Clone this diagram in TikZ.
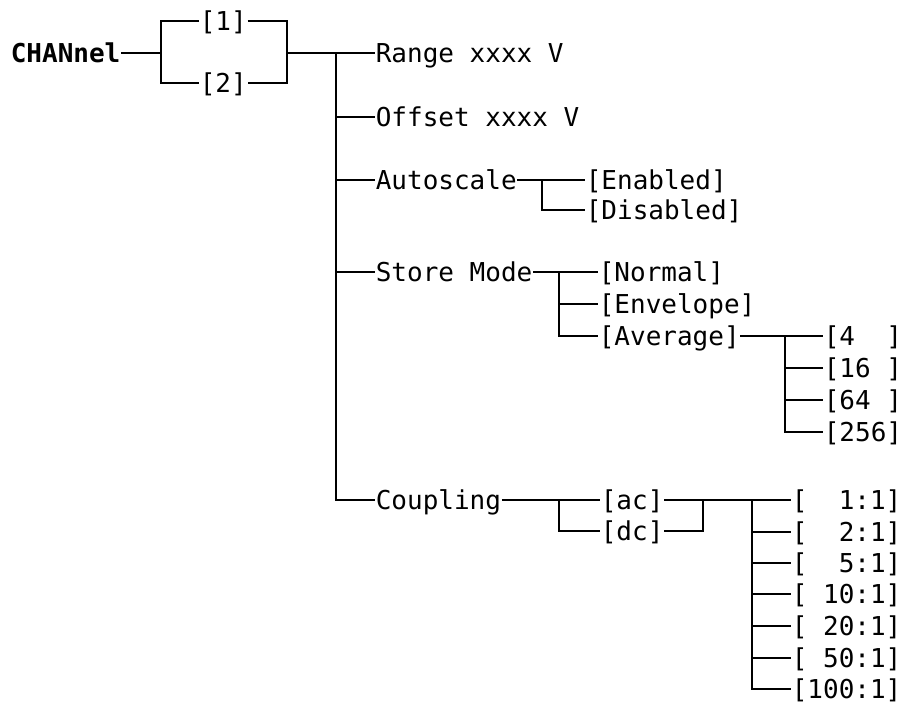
\documentclass[tikz,border=0pt]{standalone}
\usepackage{fontspec}
\setmonofont{DejaVu Sans Mono}
\usetikzlibrary{positioning}

\begin{document}
\begin{tikzpicture}[x=0.5pt,y=-0.5pt,
  item/.style={anchor=west, inner xsep=0pt, inner ysep=0pt, text height=9.4pt, text depth=0pt,
    font=\ttfamily\fontsize{13}{15}\selectfont},
  head/.style={item, font=\ttfamily\bfseries\fontsize{13}{15}\selectfont}]
\useasboundingbox (0,0) rectangle (901,703);
\tikzset{every path/.style={line width=0.8pt}}

% top level
\node [head] (chan) at (10,53) {CHANnel};
\node [item] (ch1) at (199,21) {[1]};
\node [item] (ch2) at (199,83) {[2]};
\coordinate (jA) at (161,53);
\coordinate (jB) at (287,53);
\coordinate (bus) at (336,53);

\draw (chan.east) -- (jA);
\draw (ch1.west) -| (jA) |- (ch2.west);
\draw (ch1.east) -| (jB) |- (ch2.east);

% menu items
\node [item] (range) at (375,53) {Range xxxx V};
\node [item] (offset) at (375,117) {Offset xxxx V};
\node [item] (auto) at (375,180) {Autoscale};
\node [item] (store) at (375,272) {Store Mode};
\node [item] (coup) at (375,500) {Coupling};

\draw (jB) -- (range.west);
\draw (bus) |- (coup.west);
\foreach \n in {offset,auto,store}
  \draw (bus |- \n.west) -- (\n.west);

% autoscale
\node [item] (enab) at (585,180) {[Enabled]};
\node [item] (disab) at (585,210) {[Disabled]};
\coordinate (jAuto) at (542,180);
\draw (auto.east) -- (enab.west);
\draw (jAuto) |- (disab.west);

% store mode
\node [item] (normal) at (598,272) {[Normal]};
\node [item] (env) at (598,304) {[Envelope]};
\node [item] (avg) at (598,336) {[Average]};
\coordinate (jStore) at (559,272);
\draw (store.east) -- (normal.west);
\draw (jStore) |- (avg.west);
\draw (jStore |- env.west) -- (env.west);

% average count
\node [item] (av4) at (823,336) {[4\phantom{00}]};
\node [item] (av16) at (823,368) {[16\phantom{0}]};
\node [item] (av64) at (823,400) {[64\phantom{0}]};
\node [item] (av256) at (823,432) {[256]};
\coordinate (jAvg) at (785,336);
\draw (avg.east) -- (av4.west);
\draw (jAvg) |- (av256.west);
\foreach \n in {av16,av64}
  \draw (jAvg |- \n.west) -- (\n.west);

% coupling
\node [item] (ac) at (600,500) {[ac]};
\node [item] (dc) at (600,531) {[dc]};
\coordinate (jCoup) at (559,500);
\coordinate (jDc) at (703,500);
\coordinate (jR) at (752,500);
\draw (coup.east) -- (ac.west);
\draw (jCoup) |- (dc.west);

% probe ratio
\foreach \r/\t/\y in {r1/\phantom{00}1:1/500, r2/\phantom{00}2:1/532, r5/\phantom{00}5:1/563,
    r10/\phantom{0}10:1/594, r20/\phantom{0}20:1/626, r50/\phantom{0}50:1/658, r100/100:1/689}
  \node [item] (\r) at (791,\y) {[\t]};
\draw (ac.east) -- (r1.west);
\draw (dc.east) -| (jDc);
\draw (jR) |- (r100.west);
\foreach \n in {r2,r5,r10,r20,r50}
  \draw (jR |- \n.west) -- (\n.west);

\end{tikzpicture}
\end{document}
